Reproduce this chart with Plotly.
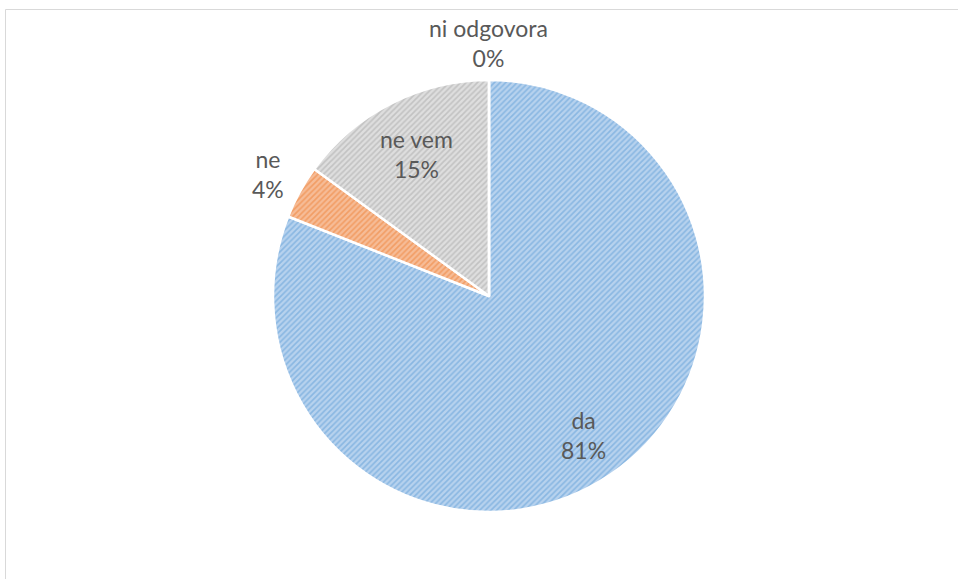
import math
import plotly.graph_objects as go

# Survey answers and their shares (%)
labels = ["da", "ne", "ne vem", "ni odgovora"]
values = [81, 4, 15, 0]
line_colors = ["#5B9BD5", "#ED7D31", "#A5A5A5", "#FFC000"]
fill_colors = ["#B7D2EE", "#F6BC97", "#DEDEDE", "#FFE08A"]
# label distance from the centre, as a fraction of the radius
label_radius = [0.78, 1.17, 0.74, 1.17]

W, H = 958, 579
cx, cy, r = 489, 296, 216

fig = go.Figure(
    go.Pie(
        labels=labels,
        values=values,
        sort=False,
        direction="clockwise",
        rotation=0,
        textinfo="none",
        marker=dict(
            colors=fill_colors,
            line=dict(color="white", width=2.5),
            pattern=dict(shape="/", fgcolor=line_colors, bgcolor=fill_colors,
                         size=4, solidity=0.4, fillmode="overlay"),
        ),
        showlegend=False,
        hoverinfo="label+percent",
        domain=dict(x=[(cx - r) / W, (cx + r) / W], y=[(H - cy - r) / H, (H - cy + r) / H]),
    )
)

# Data labels: category name and share, placed along each slice's mid-angle
total = sum(values)
start = 0.0
annotations = []
for lab, val, k in zip(labels, values, label_radius):
    mid = (start + val / 2) / total * 2 * math.pi
    start += val
    px = cx + k * r * math.sin(mid)
    py = cy - k * r * math.cos(mid)
    annotations.append(dict(
        x=px / W, y=1 - py / H, xref="paper", yref="paper",
        text=f"{lab}<br>{round(val / total * 100)}%",
        showarrow=False, xanchor="center", yanchor="middle",
        font=dict(family="Lato, Open Sans, sans-serif", size=23, color="#595959"),
    ))

fig.update_layout(
    width=W,
    height=H,
    margin=dict(l=0, r=0, t=0, b=0),
    paper_bgcolor="white",
    plot_bgcolor="white",
    annotations=annotations,
    shapes=[
        dict(type="rect", xref="paper", yref="paper",
             x0=5.5 / W, x1=1.02, y0=-0.02, y1=(H - 9.5) / H,
             line=dict(color="#D9D9D9", width=1), fillcolor="rgba(0,0,0,0)", layer="below")
    ],
)

fig.write_html("out.html")
